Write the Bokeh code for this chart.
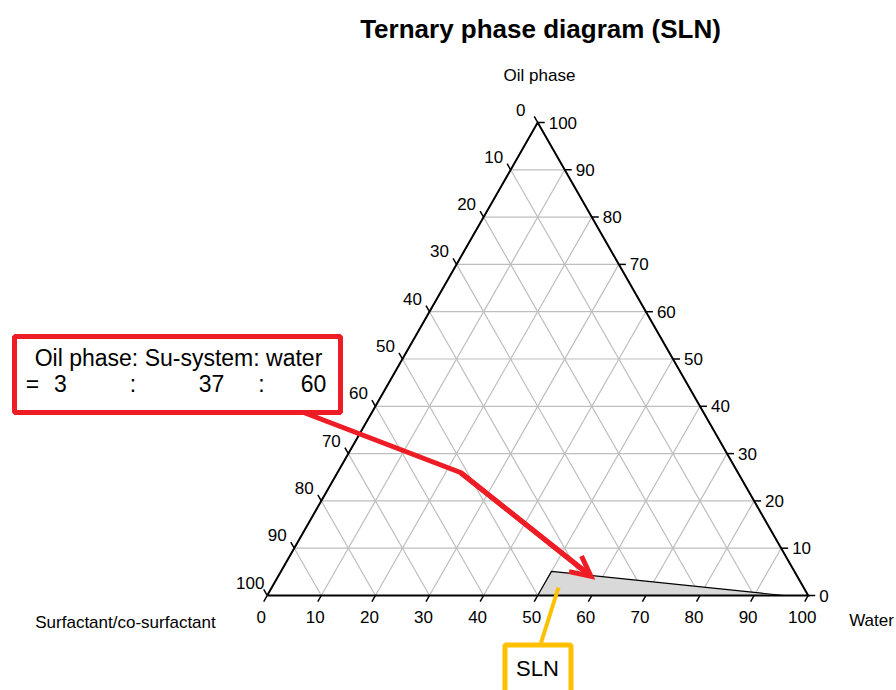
import math
from bokeh.plotting import figure
from bokeh.models import Range1d, Arrow, OpenHead
from bokeh.core.properties import value
from bokeh.embed import file_html
from bokeh.resources import INLINE

# ---------------- data ----------------
TITLE = "Ternary phase diagram (SLN)"
AXIS_OIL = "Oil phase"
AXIS_SURF = "Surfactant/co-surfactant"
AXIS_WATER = "Water"
TICKS = [0, 10, 20, 30, 40, 50, 60, 70, 80, 90, 100]
GRID = [10, 20, 30, 40, 50, 60, 70, 80, 90]
# SLN region (water %, oil %)
SLN_WATER = [50, 50, 95.5]
SLN_OIL = [0, 5.1, 0]
REGION_LABEL = "SLN"
RATIO_HEADER = "Oil phase: Su-system: water"
RATIO_OIL = 3
RATIO_SU = 37
RATIO_WATER = 60

# ---------------- layout ----------------
W, H = 896, 690
X0, Y0 = 266.7, 595.0   # pixel position of water=0, oil=0 corner
SX, SY = 5.41, 4.73     # pixels per percent
FONT = value("Liberation Sans")
GRID_COLOR = "#BEBEBE"
RED = "#EE1C25"
YELLOW = "#FFC000"


def tern(water, oil):
    return X0 + (water + oil / 2.0) * SX, Y0 - oil * SY


p = figure(width=W, height=H, x_range=Range1d(0, W), y_range=Range1d(H, 0),
           output_backend="svg", toolbar_location=None, min_border=0,
           x_axis_location=None, y_axis_location=None)
p.grid.visible = False
p.outline_line_color = None
p.background_fill_color = "white"

# grid lines
gx, gy = [], []
for t in GRID:
    for a, b in (((0, t), (100 - t, t)),          # constant oil
                 ((t, 0), (t, 100 - t)),          # constant water
                 ((100 - t, 0), (0, 100 - t))):   # constant surfactant
        xa, ya = tern(*a)
        xb, yb = tern(*b)
        gx.append([xa, xb])
        gy.append([ya, yb])
p.multi_line(gx, gy, line_color=GRID_COLOR, line_width=1.2)

# SLN region
px, py = zip(*[tern(w, o) for w, o in zip(SLN_WATER, SLN_OIL)])
p.patch(list(px), list(py), fill_color="#D9D9D9", line_color="black", line_width=1.2)

# triangle edges
cx, cy = zip(*[tern(0, 0), tern(100, 0), tern(0, 100), tern(0, 0)])
p.line(list(cx), list(cy), line_color="black", line_width=2, line_join="miter")

# ticks and labels
L = 7
ex, ey = 0.5 * SX * 100, SY * 100
n = math.hypot(ex, ey)
ux, uy = ex / n, ey / n
tx, ty = [], []
bx, by, bt = [], [], []
lx, ly, lt = [], [], []
rx, ry, rt = [], [], []
for t in TICKS:
    # bottom axis (water)
    x, y = tern(t, 0)
    tx.append([x, x - ux * L]); ty.append([y, y + uy * L])
    bx.append(x - 6); by.append(y + 21); bt.append(str(t))
    # left axis (surfactant)
    x, y = tern(0, 100 - t)
    tx.append([x, x - ux * L]); ty.append([y, y - uy * L])
    lx.append(x - 17); ly.append(y - 13); lt.append(str(t))
    # right axis (oil)
    x, y = tern(100 - t, t)
    tx.append([x, x + L]); ty.append([y, y])
    rx.append(x + 11); ry.append(y); rt.append(str(t))
p.multi_line(tx, ty, line_color="black", line_width=1.5)
p.text(bx, by, text=bt, text_font=FONT, text_font_size="17px", text_align="center",
       text_baseline="middle", text_color="black")
p.text(lx, ly, text=lt, text_font=FONT, text_font_size="17px", text_align="center",
       text_baseline="middle", text_color="black")
p.text(rx, ry, text=rt, text_font=FONT, text_font_size="17px", text_align="left",
       text_baseline="middle", text_color="black")

# axis titles
p.text([539, 125, 871], [75, 622, 620], text=[AXIS_OIL, AXIS_SURF, AXIS_WATER],
       text_font=FONT, text_font_size="17px", text_align="center",
       text_baseline="middle", text_color="black")

# title
p.text([540], [28], text=[TITLE], text_font=FONT, text_font_size="26px",
       text_font_style="bold", text_align="center", text_baseline="middle",
       text_color="black")

# red annotation arrow
tipx, tipy = tern(RATIO_WATER, RATIO_OIL)
tipx, tipy = tipx - 9, tipy - 5
p.line([298, 460, tipx - 8], [410, 472, tipy - 6.5], line_color=RED, line_width=5,
       line_join="round")
p.add_layout(Arrow(x_start=460, y_start=472, x_end=tipx, y_end=tipy,
                   line_color=RED, line_width=5, start=None,
                   end=OpenHead(size=20, line_color=RED, line_width=5, line_join="miter")))

# red box
p.quad(left=[14], right=[340], top=[336], bottom=[412], fill_color="white",
       line_color=RED, line_width=5)
p.text([178], [357], text=[RATIO_HEADER], text_font=FONT, text_font_size="23px",
       text_align="center", text_baseline="middle", text_color="black")
p.text([32, 60, 132.5, 211, 261, 313], [383] * 6,
       text=["=", str(RATIO_OIL), ":", str(RATIO_SU), ":", str(RATIO_WATER)],
       text_font=FONT, text_font_size="23px", text_align="center",
       text_baseline="middle", text_color="black")

# yellow callout
p.line([558, 540], [587, 644], line_color=YELLOW, line_width=4)
p.quad(left=[504.5], right=[570.5], top=[644.5], bottom=[720], fill_color="white",
       line_color=YELLOW, line_width=5)
p.text([537], [668], text=[REGION_LABEL], text_font=FONT, text_font_size="22px",
       text_align="center", text_baseline="middle", text_color="black")

open("out.html", "w").write(file_html(p, INLINE))
